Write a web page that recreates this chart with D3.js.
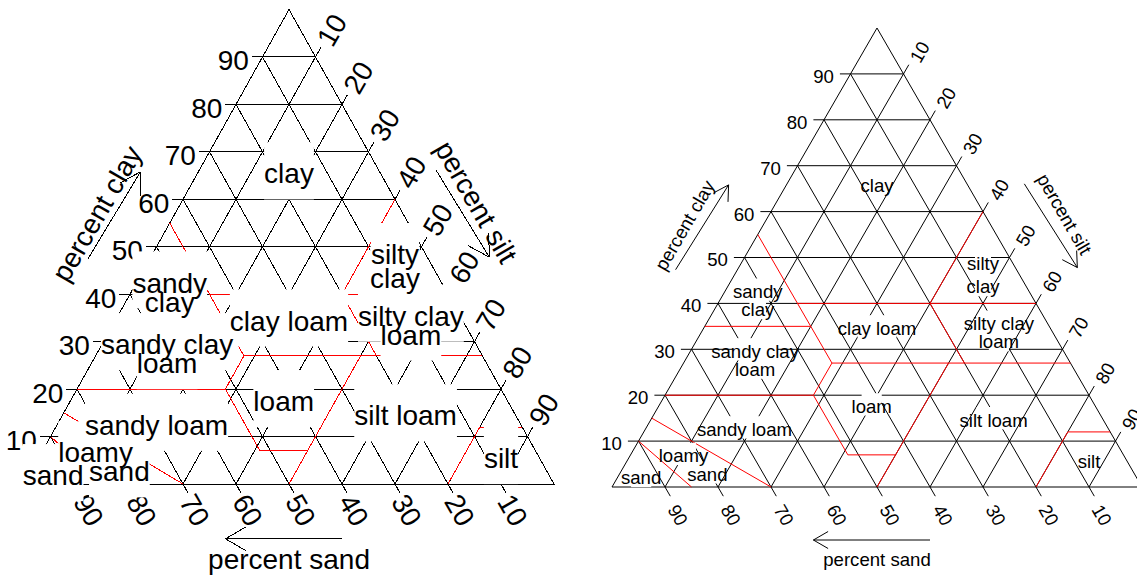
<!DOCTYPE html>
<html>
<head>
<meta charset="utf-8">
<script src="https://cdn.jsdelivr.net/npm/d3@7"></script>
<style>
  body { margin: 0; background: #fff; }
  svg { display: block; font-family: "Liberation Sans", Arial, sans-serif; }
</style>
</head>
<body>
<svg id="chart" width="1137" height="576"></svg>
<script>
// ---- data -------------------------------------------------------------
const tickValues = [10, 20, 30, 40, 50, 60, 70, 80, 90];
const tickLabels = ["10", "20", "30", "40", "50", "60", "70", "80", "90"];
const axisTitles = ["percent sand", "percent silt", "percent clay"];

// texture class boundaries: start (sand %, clay %) -> end (sand %, clay %)
const boundSandFrom = [85, 70, 80, 52, 52, 50, 20, 8, 52, 45, 45, 65, 45, 20, 20];
const boundClayFrom = [0, 0, 20, 20, 7, 0, 0, 12, 20, 27, 27, 35, 40, 27, 40];
const boundSandTo   = [90, 85, 52, 52, 43, 23, 8, 0, 45, 0, 45, 45, 0, 20, 0];
const boundClayTo   = [10, 15, 20, 7, 7, 27, 12, 12, 27, 27, 55, 35, 40, 40, 60];

// texture class names and their positions in triangle units
const classNames = ["clay", "silty", "clay", "silty clay", "loam", "clay loam", "sandy", "clay",
  "sandy clay", "loam", "sandy loam", "loamy", "sand", "sand", "loam", "silt loam", "silt"];
const classX = [0.5, 0.7, 0.7, 0.73, 0.73, 0.5, 0.275, 0.275, 0.27, 0.27, 0.25, 0.135, 0.18, 0.055, 0.49, 0.72, 0.9];
const classY = [0.66, 0.49, 0.44, 0.36, 0.32, 0.35, 0.43, 0.39, 0.3, 0.26, 0.13, 0.072, 0.032, 0.024, 0.18, 0.15, 0.06];

// ---- layout -----------------------------------------------------------
const SIN60 = Math.sqrt(3) / 2;
const TICK = 0.02;

const panels = [
  { left: 24, right: 554, base: 484, top: 9.5, fs: 28, boxW: 1.0, boxH: 2.04, crisp: true,
    clayGap: 3, bottomOff: [12, 26], rightOff: [16, -27], barb: 24 },
  { left: 612, right: 1142, base: 487, top: 28, fs: 18.6, boxW: 0.5, boxH: 1.2, crisp: false,
    clayGap: 6, bottomOff: [13, 28], rightOff: [16, -22], barb: 17 }
];

// arrows and axis titles, in triangle units
const clayArrow = [[0.12, 0.41], [0.22, 0.57]];
const siltArrow = [[0.778, 0.572], [0.878, 0.414]];
const sandArrow = [[0.6, -0.1], [0.38, -0.1]];
const clayTitlePos = [0.137, 0.494];
const siltTitlePos = [0.854, 0.515];
const sandTitlePos = [0.5, -0.136];

const svg = d3.select("#chart");

panels.forEach(p => {
  const x = d3.scaleLinear().domain([0, 1]).range([p.left, p.right]);
  const y = d3.scaleLinear().domain([0, SIN60]).range([p.base, p.top]);
  const P = (u, v) => [x(u), y(v)];
  // sand/clay fractions -> triangle units
  const T = (sand, clay) => [1 - sand - clay / 2, clay * SIN60];

  const g = svg.append("g");
  const render = p.crisp ? "crispEdges" : "auto";

  const seg = (parent, a, b, color) => parent.append("line")
    .attr("x1", a[0]).attr("y1", a[1]).attr("x2", b[0]).attr("y2", b[1])
    .attr("stroke", color).attr("stroke-width", 1)
    .attr("shape-rendering", render);

  // grid lines with their ticks
  const grid = g.append("g");
  tickValues.forEach(t => {
    const f = t / 100;
    // clay: horizontal, tick to the left
    seg(grid, P(f / 2 - TICK, f * SIN60), P(1 - f / 2, f * SIN60), "#000");
    // sand: parallel to right side, tick below the base
    seg(grid, P(1 - f + TICK / 2, -TICK * SIN60), P((1 - f) / 2, (1 - f) * SIN60), "#000");
    // silt: parallel to left side, tick beyond the right side
    seg(grid, P(f, 0), P(f + (1 - f) / 2 + TICK / 2, (1 - f) * SIN60 + TICK * SIN60), "#000");
  });

  // outline
  grid.append("path")
    .attr("d", d3.line()([P(0, 0), P(0.5, SIN60), P(1, 0), P(0, 0)]))
    .attr("fill", "none").attr("stroke", "#000").attr("stroke-width", 1)
    .attr("shape-rendering", render);

  // tick labels
  const labels = g.append("g").attr("font-size", p.fs).attr("fill", "#000");
  tickValues.forEach((t, i) => {
    const f = t / 100;
    const c = P(f / 2 - TICK, f * SIN60);
    labels.append("text").attr("x", c[0] - p.clayGap).attr("y", c[1] + 0.48 * p.fs)
      .attr("text-anchor", "end").text(tickLabels[i]);

    const b = P(1 - f, 0);
    const bx = b[0] + p.bottomOff[0], by = b[1] + p.bottomOff[1];
    labels.append("text").attr("transform", `translate(${bx},${by}) rotate(60)`)
      .attr("text-anchor", "middle").attr("dy", "0.36em").text(tickLabels[i]);

    const r = P(f + (1 - f) / 2, (1 - f) * SIN60);
    const rx = r[0] + p.rightOff[0], ry = r[1] + p.rightOff[1];
    labels.append("text").attr("transform", `translate(${rx},${ry}) rotate(-60)`)
      .attr("text-anchor", "middle").attr("dy", "0.36em").text(tickLabels[i]);
  });

  // axis titles
  const title = (pos, angle, txt) => {
    const c = P(pos[0], pos[1]);
    labels.append("text").attr("transform", `translate(${c[0]},${c[1]}) rotate(${angle})`)
      .attr("text-anchor", "middle").attr("dy", "0.36em").text(txt);
  };
  title(sandTitlePos, 0, axisTitles[0]);
  title(siltTitlePos, 60, axisTitles[1]);
  title(clayTitlePos, -60, axisTitles[2]);

  // arrows
  const arrow = (pts) => {
    const tail = P(pts[0][0], pts[0][1]), head = P(pts[1][0], pts[1][1]);
    seg(g, tail, head, "#000");
    const dx = tail[0] - head[0], dy = tail[1] - head[1];
    const len = Math.hypot(dx, dy);
    [-Math.PI / 6, Math.PI / 6].forEach(a => {
      const ux = (dx * Math.cos(a) - dy * Math.sin(a)) / len;
      const uy = (dx * Math.sin(a) + dy * Math.cos(a)) / len;
      seg(g, head, [head[0] + ux * p.barb, head[1] + uy * p.barb], "#000");
    });
  };
  arrow(clayArrow);
  arrow(siltArrow);
  arrow(sandArrow);

  // texture class boundaries
  const bounds = g.append("g");
  boundSandFrom.forEach((s, i) => {
    const a = T(s / 100, boundClayFrom[i] / 100);
    const b = T(boundSandTo[i] / 100, boundClayTo[i] / 100);
    seg(bounds, P(a[0], a[1]), P(b[0], b[1]), "#ff0000");
  });

  // class names on background boxes
  const boxes = g.append("g");
  const names = g.append("g").attr("font-size", p.fs).attr("fill", "#000");
  classNames.forEach((n, i) => {
    const c = P(classX[i], classY[i] * SIN60);
    const t = names.append("text").attr("x", c[0]).attr("y", c[1] + 0.45 * p.fs)
      .attr("text-anchor", "middle").text(n);
    const w = t.node().getComputedTextLength() * p.boxW;
    const h = p.fs * p.boxH;
    boxes.append("rect").attr("x", c[0] - w / 2).attr("y", c[1] - h / 2)
      .attr("width", w).attr("height", h).attr("fill", "#fff");
  });
});
</script>
</body>
</html>
